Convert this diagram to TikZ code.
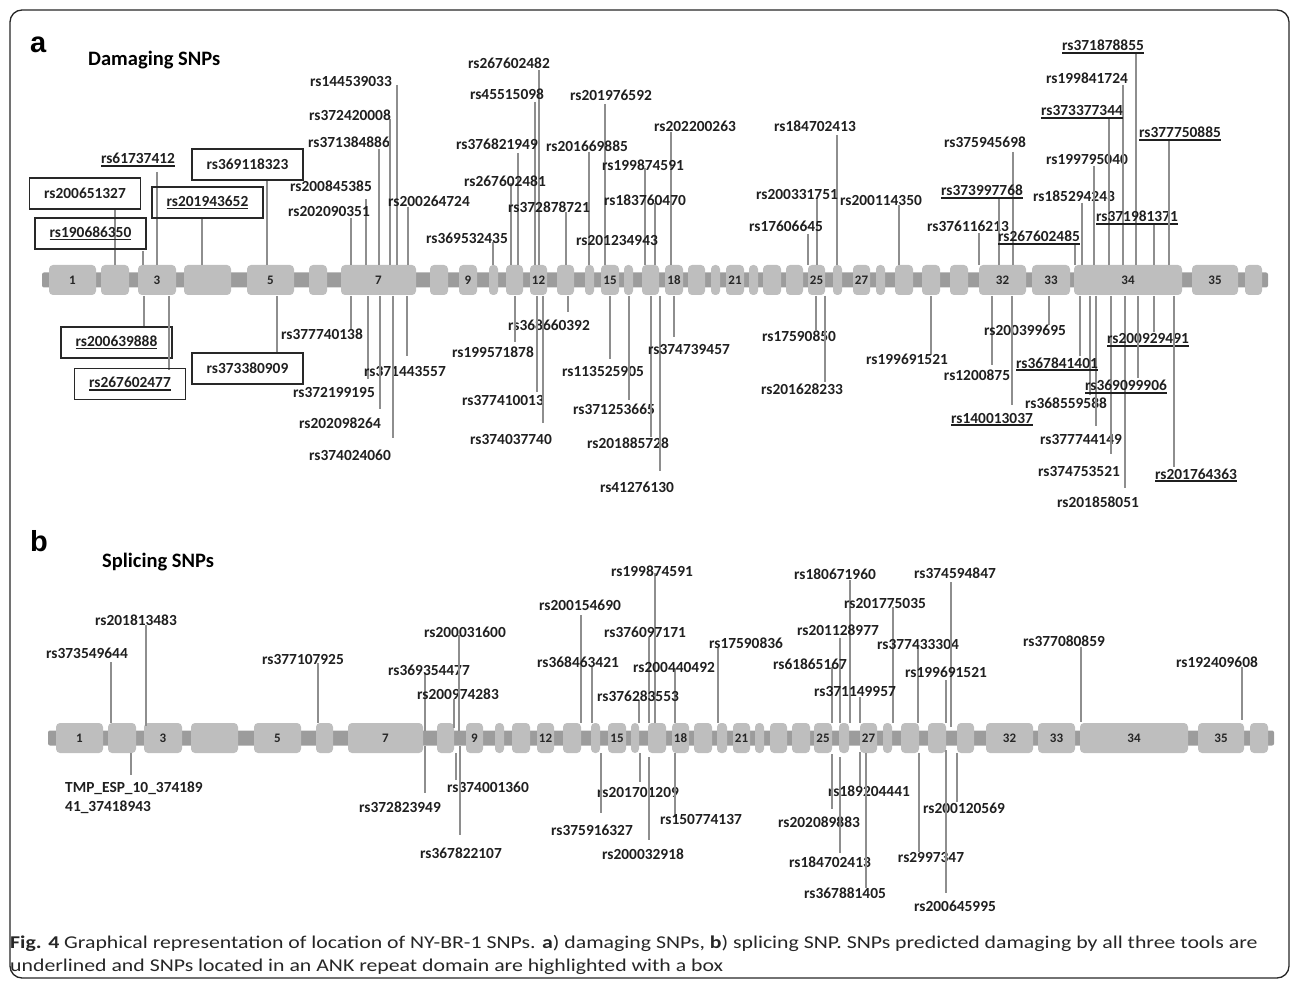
\documentclass[tikz,border=0pt]{standalone}
\usepackage{fontspec}
\setmainfont{Carlito}
\newfontfamily\letterfont{Liberation Sans}
\newfontfamily\capfont[FakeStretch=1.21]{Carlito}
\definecolor{exongray}{RGB}{190,190,190}
\definecolor{bargray}{RGB}{156,156,156}
\definecolor{snpgray}{RGB}{142,142,142}
\definecolor{boxedge}{RGB}{40,40,40}
\newcommand{\snpul}[1]{\setbox0\hbox{#1}\rlap{\rule[-2.8pt]{\wd0}{1.5pt}}\box0}
\tikzset{
  exon/.style={rectangle, fill=exongray, rounded corners=4pt, minimum height=30pt,
    inner sep=0pt, font=\fontsize{13}{13}\selectfont\bfseries, text=black!85},
  genebar/.style={rectangle, fill=bargray, rounded corners=2pt, minimum height=15pt, inner sep=0pt},
  snpline/.style={snpgray, line width=1.3pt},
  snplab/.style={inner sep=0pt, anchor=base, yshift=-5pt,
    font=\fontsize{15.4}{16}\selectfont\bfseries, text=black!88},
  ankbox/.style={draw=boxedge, line width=1.4pt, minimum width=111pt, minimum height=31pt,
    inner sep=0pt, font=\fontsize{15.4}{16}\selectfont\bfseries, text=black!88},
  paneltitle/.style={inner sep=0pt, anchor=base west, font=\fontsize{20.5}{22}\selectfont\bfseries},
  panelletter/.style={inner sep=0pt, anchor=base west, font=\fontsize{29}{30}\letterfont\bfseries}
}
\begin{document}
\begin{tikzpicture}[x=1pt, y=-1pt]
  \useasboundingbox (0,0) rectangle (1290,981);
  \draw[black!85, line width=1.3pt, rounded corners=12pt] (10,10) rectangle (1289,978);

  % panel a
  \node[panelletter] (la) at (30,53) {a};
  \node[paneltitle] (ta) at (88,66) {Damaging SNPs};
  \node[genebar, minimum width=1226pt] (bara) at (655,280) {};
  \foreach \c/\w/\t [count=\k] in {72.5/47/1, 115/28/{}, 157/38/3, 207.5/47/{}, 270.5/47/5,
      318/18/{}, 378.5/75/7, 439/18/{}, 468/18/9, 493.5/9/{}, 514.5/17/{}, 538.5/17/12,
      565.5/17/{}, 589.5/9/{}, 610/18/15, 628.5/9/{}, 650.5/17/{}, 674/18/18, 696.5/17/{},
      715.5/9/{}, 735/18/21, 753.5/9/{}, 772/18/{}, 794.5/17/{}, 816.5/17/25, 837.5/9/{},
      861.5/17/27, 880.5/9/{}, 904/18/{}, 931/18/{}, 959/18/{}, 1002.5/47/32, 1051/38/33,
      1128/108/34, 1215/46/35, 1253.5/17/{}}
    \node[exon, minimum width=\w pt] (ea\k) at (\c,280) {\t};

  \foreach \lx/\ya/\yb/\tx/\ty/\t [count=\k] in {366/199/265/331/187/rs200845385,
      351/218/265/329/212/rs202090351, 379/149/265/349/143/rs371384886,
      390/119/265/350/116/rs372420008, 397/85/265/351/82/rs144539033,
      408/207/265/429/202/rs200264724, 539/70/265/509/64/rs267602482,
      535/102/265/507/95/rs45515098, 605/104/265/611/96/rs201976592,
      671/132/265/695/127/rs202200263, 518/153/265/497/145/rs376821949,
      589/152/265/587/147/rs201669885, 645/168/265/643/166/rs199874591,
      511/183/265/505/182/rs267602481, 655/203/265/645/201/rs183760470,
      566/212/265/549/208/rs372878721, 493/242/265/467/239/rs369532435,
      837/135/265/815/127/rs184702413, 817/198/265/797/195/rs200331751,
      808/234/265/786/227/rs17606645, 899/205/265/881/201/rs200114350,
      1013/152/265/985/143/rs375945698, 979/233/265/968/227/rs376116213,
      1082/203/265/1074/197/rs185294243, 1094/166/265/1087/160/rs199795040,
      1123/85/265/1087/79/rs199841724,
      351/296/330/322/335/rs377740138, 368/296/379/334/392/rs372199195,
      407/296/356/405/372/rs371443557, 380/296/409/340/423/rs202098264,
      393/296/438/350/455/rs374024060, 568/296/312/549/326/rs368660392,
      515/296/342/493/353/rs199571878, 537/296/392/503/401/rs377410013,
      543/296/423/511/439/rs374037740, 610/296/359/603/372/rs113525905,
      629/296/400/614/409/rs371253665, 651/296/437/628/443/rs201885728,
      660/296/471/637/487/rs41276130, 674/296/337/689/350/rs374739457,
      816/296/330/799/337/rs17590850, 825/296/382/802/389/rs201628233,
      931/296/355/907/359/rs199691521, 992/296/365/977/376/rs1200875,
      1049/296/325/1025/331/rs200399695, 1090/296/395/1066/403/rs368559588,
      1096/296/426/1081/439/rs377744149, 1111/296/454/1079/471/rs374753521,
      1125/296/488/1098/502/rs201858051}{
    \draw[snpline] (\lx,\ya) -- (\lx,\yb);
    \node[snplab] (sa\k) at (\tx,\ty) {\t};
  }
  \node[snplab] (sa0) at (617,241) {rs201234943};

  \foreach \lx/\ya/\yb/\tx/\ty/\t [count=\k] in {157/172/265/138/159/rs61737412,
      999/197/265/982/191/rs373997768, 1075/243/265/1039/237/rs267602485,
      1109/117/265/1082/111/rs373377344, 1136/52/265/1103/46/rs371878855,
      1154/223/265/1137/217/rs371981371, 1169/140/265/1180/133/rs377750885,
      1012/296/405/992/418/rs140013037, 1080/296/356/1057/363/rs367841401,
      1154/296/332/1148/339/rs200929491, 1138/296/378/1126/386/rs369099906,
      1174/296/467/1196/474/rs201764363}{
    \draw[snpline] (\lx,\ya) -- (\lx,\yb);
    \node[snplab] (ua\k) at (\tx,\ty) {\snpul{\t}};
  }

  % ANK repeat boxes
  \foreach \cx/\cy/\t/\lx/\ya/\yb [count=\k] in {85/193.5/rs200651327/115/209/265,
      247.5/164.5/rs369118323/267/180/265, 247.5/368.5/rs373380909/277/296/353}{
    \draw[snpline] (\lx,\ya) -- (\lx,\yb);
    \node[ankbox] (ka\k) at (\cx,\cy) {\t};
  }
  \foreach \cx/\cy/\t/\lx/\ya/\yb [count=\k] in {90.5/233.5/rs190686350/143/251/265,
      207.5/202.5/rs201943652/202/218/265, 116.5/342.5/rs200639888/144/296/327,
      130/384/rs267602477/169/296/370}{
    \draw[snpline] (\lx,\ya) -- (\lx,\yb);
    \node[ankbox] (kb\k) at (\cx,\cy) {\snpul{\t}};
  }

  % panel b
  \node[panelletter] (lb) at (30,551) {b};
  \node[paneltitle] (tb) at (102,567) {Splicing SNPs};
  \node[genebar, minimum width=1226pt] (barb) at (661,738) {};
  \foreach \c/\w/\t [count=\k] in {79.5/47/1, 122/28/{}, 163/38/3, 214.5/47/{}, 277.5/47/5,
      324.5/17/{}, 385.5/75/7, 445.5/17/{}, 474.5/17/9, 499.5/9/{}, 521/18/{}, 545.5/17/12,
      572/18/{}, 595.5/9/{}, 617/18/15, 635/8/{}, 657/18/{}, 680.5/17/18, 703/18/{},
      722/10/{}, 741.5/17/21, 759.5/9/{}, 778.5/17/{}, 801/18/{}, 823/18/25, 844/10/{},
      868.5/17/27, 887.5/9/{}, 910/18/{}, 937/18/{}, 965.5/17/{}, 1009.5/47/32,
      1056.5/37/33, 1134/108/34, 1221/46/35, 1259/18/{}}
    \node[exon, minimum width=\w pt] (eb\k) at (\c,738) {\t};

  \foreach \lx/\ya/\yb/\tx/\ty/\t [count=\k] in {111/662/723/87/653/rs373549644,
      146/625/726/136/620/rs201813483, 318/663/723/303/659/rs377107925,
      425/673/731/429/670/rs369354477, 454/699/728/458/694/rs200974283,
      459/635/731/465/632/rs200031600, 581/615/723/580/605/rs200154690,
      592/667/723/578/662/rs368463421, 655/573/723/652/571/rs199874591,
      649/637/723/645/632/rs376097171, 675/669/723/674/667/rs200440492,
      639/700/723/638/696/rs376283553, 718/648/723/746/643/rs17590836,
      850/580/723/835/574/rs180671960, 893/607/723/885/603/rs201775035,
      840/638/723/838/630/rs201128977, 918/647/723/918/644/rs377433304,
      951/582/727/955/573/rs374594847, 832/667/723/810/664/rs61865167,
      860/697/723/855/691/rs371149957, 946/680/723/946/672/rs199691521,
      1081/647/722/1064/641/rs377080859, 1242/667/720/1217/662/rs192409608,
      425/746/793/400/807/rs372823949, 456/753/780/488/787/rs374001360,
      460/746/835/461/853/rs367822107, 640/753/782/638/792/rs201701209,
      601/753/813/592/830/rs375916327, 649/757/840/643/854/rs200032918,
      675/753/817/701/819/rs150774137, 860/752/786/869/791/rs189204441,
      832/754/809/819/822/rs202089883, 840/757/853/830/862/rs184702413,
      866/753/888/845/893/rs367881405, 957/753/802/964/808/rs200120569,
      919/753/852/931/857/rs2997347, 946/750/893/955/906/rs200645995}{
    \draw[snpline] (\lx,\ya) -- (\lx,\yb);
    \node[snplab] (sb\k) at (\tx,\ty) {\t};
  }
  \draw[snpline] (131,753) -- (131,775);
  \node[snplab, anchor=north west, yshift=0pt, align=left,
    font=\fontsize{15.4}{19}\selectfont\bfseries] (tmp) at (65,777)
    {TMP\_ESP\_10\_374189\\41\_37418943};

  % caption
  \node[anchor=north west, inner sep=0pt, align=left, font=\fontsize{18}{23}\capfont,
    text=black!85] (cap) at (10,935)
    {\textbf{Fig. 4} Graphical representation of location of NY-BR-1 SNPs. \textbf{a}) damaging SNPs,
     \textbf{b}) splicing SNP. SNPs predicted damaging by all three tools are\\
     underlined and SNPs located in an ANK repeat domain are highlighted with a box};
\end{tikzpicture}
\end{document}
